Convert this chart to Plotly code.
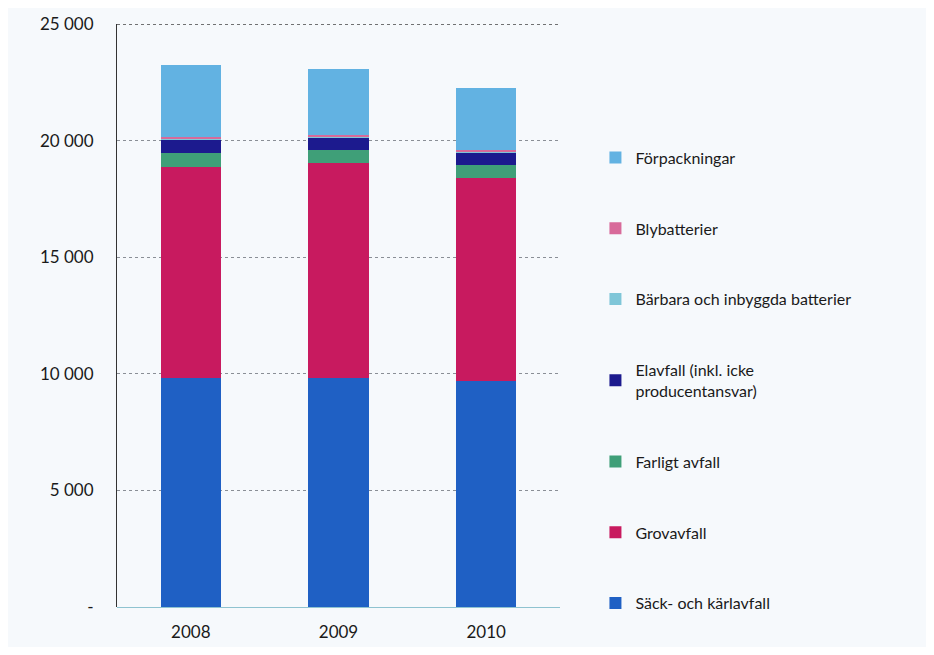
import plotly.graph_objects as go

years = ["2008", "2009", "2010"]

# ton per år (nerifrån och upp i stapeln)
sack_karl = [9800, 9800, 9700]
grovavfall = [9050, 9260, 8710]
farligt = [600, 520, 550]
elavfall = [600, 560, 520]
barbara = [40, 40, 40]
bly = [80, 80, 80]
forpackningar = [3070, 2830, 2650]

y_ticks = [0, 5000, 10000, 15000, 20000, 25000]
y_tick_labels = ["-", "5 000", "10 000", "15 000", "20 000", "25 000"]

series = [
    ("Säck- och kärlavfall", sack_karl, "#1f60c4"),
    ("Grovavfall", grovavfall, "#c81a5f"),
    ("Farligt avfall", farligt, "#3f9f78"),
    ("Elavfall (inkl. icke<br>producentansvar)", elavfall, "#1c1a8e"),
    ("Bärbara och inbyggda batterier", barbara, "#7fc6d8"),
    ("Blybatterier", bly, "#d86a9a"),
    ("Förpackningar", forpackningar, "#62b2e2"),
]

FONT = "Lato, 'Open Sans', sans-serif"

fig = go.Figure()
for i, (name, vals, color) in enumerate(series):
    fig.add_trace(go.Bar(
        name=name,
        x=years,
        y=vals,
        marker=dict(color=color, line=dict(width=0)),
        width=0.41,
        legendgroup=f"g{i}",
        legendrank=100 - i,
    ))

# mörk streckad linje överst vid 25 000
fig.add_hline(y=25000, line=dict(color="#444444", width=1.5, dash="dot"))

fig.update_layout(
    barmode="stack",
    width=918,
    height=639,
    plot_bgcolor="#f6f9fc",
    paper_bgcolor="#f6f9fc",
    font=dict(family=FONT, size=17, color="#1a1a1a"),
    margin=dict(l=109, r=366, t=16, b=40),
    legend=dict(
        x=1.08, xanchor="left",
        y=0.80, yanchor="top",
        traceorder="grouped",
        tracegroupgap=47,
        font=dict(size=16, color="#1a1a1a"),
        itemwidth=30,
        bgcolor="rgba(0,0,0,0)",
    ),
)

fig.update_xaxes(
    showgrid=False,
    showline=False,
    ticks="",
    tickfont=dict(size=17),
    ticklabelstandoff=13,
    automargin=False,
)
fig.update_yaxes(
    range=[0, 25000],
    tickvals=y_ticks,
    ticktext=y_tick_labels,
    showgrid=True,
    gridcolor="#8a8f96",
    griddash="dot",
    gridwidth=1,
    zeroline=True,
    zerolinecolor="#8fc3d0",
    zerolinewidth=1,
    showline=True,
    linecolor="#333333",
    linewidth=1,
    ticks="",
    ticklabelstandoff=19,
    tickfont=dict(size=17),
    automargin=False,
)

fig.write_html("out.html")
